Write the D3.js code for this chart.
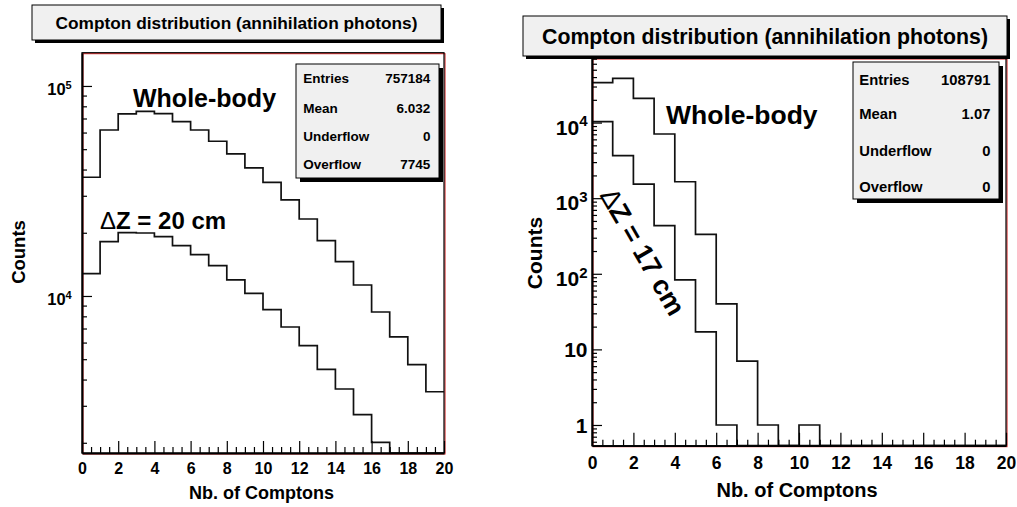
<!DOCTYPE html>
<html>
<head>
<meta charset="utf-8">
<script src="https://cdn.jsdelivr.net/npm/d3@7"></script>
<style>
  body { margin: 0; background: #ffffff; }
  svg { display: block; font-family: "Liberation Sans", Arial, Helvetica, sans-serif; font-weight: bold; }
</style>
</head>
<body>
<svg id="chart" width="1017" height="507"></svg>
<script>
// ---- data -----------------------------------------------------------
// 20 unit-wide bins on [0, 20]
const binEdges = d3.range(0, 21);
const xTickValues = d3.range(0, 21, 2);

// Left pad: counts per number of Compton scatters
const wholeBodyLeft = [36750, 61720, 73560, 75760, 73800, 67600, 61720, 54530, 47460, 40700,
                       34780, 28660, 23260, 18340, 14570, 11280, 8390, 6380, 4710, 3500];
const slabLeft = [12770, 18140, 20020, 19950, 19160, 17360, 15730, 13940, 11940, 10300,
                  8610, 7116, 5800, 4477, 3606, 2721, 2010, 0, 0, 0];
const statsLeft = [["Entries", "757184"], ["Mean", "6.032"], ["Underflow", "0"], ["Overflow", "7745"]];
const yMajorLeft = [1e4, 1e5];

// Right pad
const wholeBodyRight = [33700, 38500, 20900, 7060, 1650, 333, 40, 7, 1, 0,
                        1, 0, 0, 0, 0, 0, 0, 0, 0, 0];
const slabRight = [10300, 3650, 1530, 433, 83, 17, 1, 0, 0, 0,
                   0, 0, 0, 0, 0, 0, 0, 0, 0, 0];
const statsRight = [["Entries", "108791"], ["Mean", "1.07"], ["Underflow", "0"], ["Overflow", "0"]];
const yMajorRight = [1, 10, 100, 1000, 10000];

const titleText = "Compton distribution (annihilation photons)";
const xTitle = "Nb. of Comptons";
const yTitle = "Counts";

// ---- drawing --------------------------------------------------------
const svg = d3.select("#chart");

function minorLogTicks(domain) {
  const out = [];
  const lo = Math.floor(Math.log10(domain[0])), hi = Math.ceil(Math.log10(domain[1]));
  for (let k = lo; k <= hi; k++) {
    for (let m = 2; m <= 9; m++) {
      const v = m * Math.pow(10, k);
      if (v >= domain[0] && v <= domain[1]) out.push(v);
    }
  }
  return out;
}

function stepPoints(counts) {
  const pts = [];
  counts.forEach((c, i) => { pts.push([binEdges[i], c]); pts.push([binEdges[i + 1], c]); });
  return pts;
}

// strip the default axis font so the page font applies
function plainAxis(s) {
  s.attr("font-family", null).attr("font-size", null);
  s.selectAll("line").attr("stroke", "#000").attr("stroke-width", 1.2);
  s.selectAll("text").attr("fill", "#000");
}

function drawPad(p) {
  const g = svg.append("g");
  const x = d3.scaleLinear().domain([0, 20]).range([p.x0, p.x1]);
  const y = d3.scaleLog().domain(p.yDomain).range([p.y1, p.y0]).clamp(true);

  // frame
  g.append("rect").attr("x", p.x0 + 1).attr("y", p.y0 + 1)
    .attr("width", p.x1 - p.x0).attr("height", p.y1 - p.y0)
    .attr("fill", "none").attr("stroke", "#d01010").attr("stroke-width", 1);
  g.append("rect").attr("x", p.x0).attr("y", p.y0)
    .attr("width", p.x1 - p.x0).attr("height", p.y1 - p.y0)
    .attr("fill", "none").attr("stroke", "#000").attr("stroke-width", 1.2);

  // histograms
  const line = d3.line().x(d => x(d[0])).y(d => y(d[1]));
  [p.whole, p.slab].forEach(h => {
    g.append("path").attr("d", line(stepPoints(h)))
      .attr("fill", "none").attr("stroke", "#111").attr("stroke-width", 1.7);
  });

  // x axis: major + minor ticks pointing into the frame
  const xMinor = d3.range(0, 20.001, 0.5).filter(v => v % 2 !== 0);
  const xg = g.append("g").attr("transform", `translate(0,${p.y1})`);
  xg.append("g").call(d3.axisBottom(x).tickValues(xMinor).tickSizeInner(-p.xMinorLen)
      .tickSizeOuter(0).tickFormat(""))
    .call(s => s.select(".domain").remove())
    .call(plainAxis);
  xg.append("g").call(d3.axisBottom(x).tickValues(xTickValues).tickSizeInner(-p.xMajorLen)
      .tickSizeOuter(0).tickPadding(p.xLabelPad).tickFormat(d3.format("d")))
    .call(plainAxis)
    .call(s => s.select(".domain").attr("stroke", "#000").attr("stroke-width", 1.8))
    .call(s => s.selectAll("text").attr("font-size", p.xLabelSize));

  // y axis: log ticks
  const yg = g.append("g").attr("transform", `translate(${p.x0},0)`);
  yg.append("g").call(d3.axisLeft(y).tickValues(minorLogTicks(p.yDomain)).tickSizeInner(-p.yMinorLen)
      .tickSizeOuter(0).tickFormat(""))
    .call(s => s.select(".domain").remove())
    .call(plainAxis);
  const ymaj = yg.append("g").call(d3.axisLeft(y).tickValues(p.yMajor).tickSizeInner(-p.yMajorLen)
      .tickSizeOuter(0).tickPadding(p.yLabelPad).tickFormat(""))
    .call(plainAxis)
    .call(s => s.select(".domain").attr("stroke", "#000").attr("stroke-width", 1.8));
  ymaj.selectAll(".tick text").each(function (d) {
    const t = d3.select(this).text(null).attr("dy", null).attr("font-size", p.yLabelSize);
    const e = Math.round(Math.log10(d));
    if (e <= 1) {
      t.attr("y", 0).attr("dy", "0.35em").text(String(d));
    } else {
      t.attr("y", p.powBase);
      t.append("tspan").text("10");
      t.append("tspan").attr("dy", -p.supRaise).attr("font-size", p.supSize).text(String(e));
    }
  });

  // axis titles
  g.append("text").attr("x", p.xTitleX).attr("y", p.xTitleY).attr("text-anchor", "middle")
    .attr("font-size", p.xTitleSize).text(xTitle);
  g.append("text").attr("transform", `translate(${p.yTitleX},${p.yTitleY}) rotate(-90)`)
    .attr("text-anchor", "middle").attr("font-size", p.yTitleSize).text(yTitle);

  // annotations
  g.append("text").attr("x", p.wbX).attr("y", p.wbY).attr("font-size", p.wbSize).text("Whole-body");
  const dz = g.append("text").attr("font-size", p.dzSize);
  if (p.dzAngle) {
    dz.attr("transform", `translate(${p.dzX},${p.dzY}) rotate(${p.dzAngle})`)
      .attr("text-anchor", "middle").attr("dy", "0.35em");
  } else {
    dz.attr("x", p.dzX).attr("y", p.dzY);
  }
  dz.append("tspan").attr("font-weight", "normal").text("\u0394");
  dz.append("tspan").text(p.dzText);

  // statistics box
  const sb = p.stats;
  g.append("rect").attr("x", sb.x + sb.shadow).attr("y", sb.y + sb.shadow)
    .attr("width", sb.w).attr("height", sb.h).attr("fill", "#000");
  g.append("rect").attr("x", sb.x).attr("y", sb.y).attr("width", sb.w).attr("height", sb.h)
    .attr("fill", "#f0f0f0").attr("stroke", "#000").attr("stroke-width", 1);
  p.statRows.forEach((r, i) => {
    g.append("text").attr("x", sb.x + sb.padL).attr("y", sb.rowY[i])
      .attr("font-size", sb.size).text(r[0]);
    g.append("text").attr("x", sb.x + sb.w - sb.padR).attr("y", sb.rowY[i])
      .attr("text-anchor", "end").attr("font-size", sb.size).text(r[1]);
  });

  // title box
  const tb = p.title;
  g.append("rect").attr("x", tb.x + tb.shadow).attr("y", tb.y + tb.shadow)
    .attr("width", tb.w).attr("height", tb.h).attr("fill", "#000");
  g.append("rect").attr("x", tb.x).attr("y", tb.y).attr("width", tb.w).attr("height", tb.h)
    .attr("fill", "#f0f0f0").attr("stroke", "#000").attr("stroke-width", 1);
  g.append("text").attr("x", tb.x + tb.w / 2).attr("y", tb.base).attr("text-anchor", "middle")
    .attr("font-size", tb.size).text(titleText);
}

drawPad({
  x0: 82, x1: 444, y0: 52.7, y1: 453, yDomain: [1788, 144000],
  whole: wholeBodyLeft, slab: slabLeft, yMajor: yMajorLeft, statRows: statsLeft,
  xMajorLen: 12, xMinorLen: 6, xLabelPad: 9.6, xLabelSize: 16,
  yMajorLen: 10, yMinorLen: 5, yLabelPad: 10.3, yLabelSize: 16.5,
  powBase: 8.9, supRaise: 6.6, supSize: 11,
  xTitleX: 261.5, xTitleY: 499, xTitleSize: 18,
  yTitleX: 25, yTitleY: 252, yTitleSize: 18.5,
  wbX: 133, wbY: 107, wbSize: 25,
  dzX: 100, dzY: 228.5, dzSize: 24, dzText: "Z = 20 cm",
  stats: { x: 296, y: 64, w: 143, h: 114, shadow: 4, padL: 7.3, padR: 8.6, size: 13.5,
           rowY: [83, 112.5, 140.5, 169] },
  title: { x: 32, y: 5, w: 409, h: 35, shadow: 3, size: 17.3, base: 28.8 }
});

drawPad({
  x0: 592, x1: 1006, y0: 58, y1: 445.7, yDomain: [0.532, 71500],
  whole: wholeBodyRight, slab: slabRight, yMajor: yMajorRight, statRows: statsRight,
  xMajorLen: 13, xMinorLen: 6, xLabelPad: 10.9, xLabelSize: 17.5,
  yMajorLen: 10, yMinorLen: 5, yLabelPad: 4.5, yLabelSize: 21,
  powBase: 11.7, supRaise: 8.4, supSize: 15,
  xTitleX: 797, xTitleY: 496.5, xTitleSize: 20,
  yTitleX: 541.5, yTitleY: 253, yTitleSize: 21,
  wbX: 666, wbY: 123.5, wbSize: 26.5,
  dzX: 643, dzY: 251.6, dzSize: 27, dzAngle: 60, dzText: "Z = 17 cm",
  stats: { x: 853, y: 62, w: 146, h: 137, shadow: 4, padL: 6.3, padR: 8.6, size: 14.8,
           rowY: [85.3, 119.3, 156, 192] },
  title: { x: 523, y: 16, w: 484, h: 40, shadow: 3, size: 21.3, base: 43.5 }
});
</script>
</body>
</html>
